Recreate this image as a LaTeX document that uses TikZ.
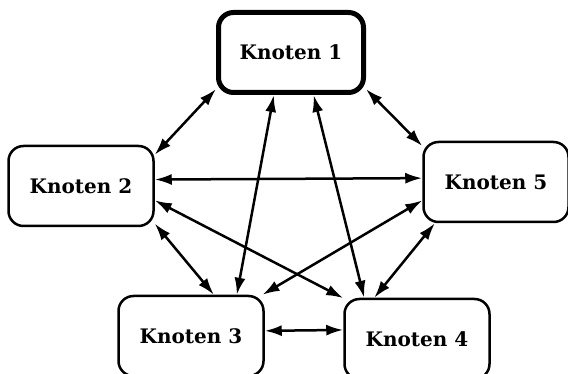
\documentclass[tikz,border=0pt]{standalone}
\usepackage{fontspec}
\setmainfont{DejaVu Serif}
\usetikzlibrary{arrows.meta}
\begin{document}
\begin{tikzpicture}[x=1pt,y=-1pt,>={Latex[length=17pt,width=11pt]},
  knoten/.style={draw,line width=2.5pt,rounded corners=15pt,minimum width=145pt,
    minimum height=80pt,font=\fontsize{20}{24}\selectfont\bfseries},
  start/.style={knoten,line width=5pt}]
  \useasboundingbox (0,0) rectangle (568,374);
  \node[start]  (k1) at (291,52.5) {Knoten 1};
  \node[knoten] (k2) at (81,186)   {Knoten 2};
  \node[knoten] (k3) at (191,336)  {Knoten 3};
  \node[knoten] (k4) at (417,339)  {Knoten 4};
  \node[knoten] (k5) at (496,182)  {Knoten 5};
  \foreach \a/\b in {k1.206.9/k2.23, k1.334.7/k5.154.8, k1.248/k3.42, k1.298/k4.142,
     k2.5.5/k5.177.6, k2.333/k3.61.6, k2.349.4/k4.151, k5.194/k3.30.6,
     k5.214.8/k4.136, k3.4/k4.173.7}
     \draw[<->,line width=2.5pt] (\a) -- (\b);
\end{tikzpicture}
\end{document}
